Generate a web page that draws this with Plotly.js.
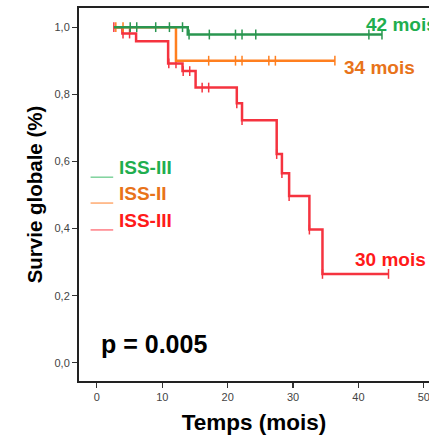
<!DOCTYPE html>
<html>
<head>
<meta charset="utf-8">
<script src="https://cdn.plot.ly/plotly-3.0.1.min.js"></script>
<style>html,body{margin:0;padding:0;background:#fff;}#chart{width:429px;height:438px;}</style>
</head>
<body>
<div id="chart"></div>
<script>
// ISS-III (green) group
var greenTimes = [2.6, 13.9, 43.6];
var greenSurv  = [1.0, 0.978, 0.978];
var greenCens  = [5.1, 6.1, 9.0, 11.1, 13.1, 14.1, 17.2, 21.2, 22.2, 24.3, 41.6, 43.6];
// ISS-II (orange) group
var orangeTimes = [2.7, 12.1, 36.4];
var orangeSurv  = [1.0, 0.90, 0.90];
var orangeCens  = [2.9, 4.0, 17.1, 21.2, 22.2, 26.3, 27.3, 36.4];
// ISS-III (red) group
var redTimes = [2.6, 3.9, 6.0, 10.9, 13.1, 15.1, 21.4, 22.2, 27.5, 28.3, 29.4, 32.5, 34.5, 44.6];
var redSurv  = [1.0, 0.981, 0.958, 0.892, 0.869, 0.82, 0.773, 0.723, 0.622, 0.565, 0.497, 0.397, 0.265, 0.265];
var redCens  = [2.6, 4.0, 5.0, 11.0, 12.1, 13.2, 14.2, 16.1, 17.1, 21.4, 22.2, 27.5, 28.3, 29.4, 32.5, 34.5, 44.6];

var groupNames = ["ISS-III", "ISS-II", "ISS-III"];
var medianLabels = ["42 mois", "34 mois", "30 mois"];
var pValueText = "p = 0.005";
var xTicks = [0, 10, 20, 30, 40, 50];
var yTicks = [0, 0.2, 0.4, 0.6, 0.8, 1.0];

var lineColors = ["#2a9650", "#ff7f1f", "#f5333f"];
var textColors = ["#1fae4f", "#e8731a", "#ff1a1a"];
var legendLineColors = ["#7fd39c", "#ffaa70", "#ff7d84"];

function survAt(times, surv, t) {
  var s = surv[0];
  for (var i = 0; i < times.length; i++) { if (times[i] <= t + 1e-9) s = surv[i]; }
  return s;
}

var groups = [
  {t: greenTimes, s: greenSurv, c: greenCens},
  {t: orangeTimes, s: orangeSurv, c: orangeCens},
  {t: redTimes, s: redSurv, c: redCens}
];

var traces = [];
groups.forEach(function(g, i) {
  traces.push({
    x: g.t, y: g.s, type: 'scatter', mode: 'lines',
    line: {shape: 'hv', color: lineColors[i], width: 2.5},
    hoverinfo: 'skip', showlegend: false
  });
  traces.push({
    x: g.c, y: g.c.map(function(t){ return survAt(g.t, g.s, t); }),
    type: 'scatter', mode: 'markers',
    marker: {symbol: 'line-ns', size: 7, color: lineColors[i], line: {color: lineColors[i], width: 1.5}},
    hoverinfo: 'skip', showlegend: false
  });
});

// draw order: red below, then orange, then green
traces = [traces[4], traces[5], traces[2], traces[3], traces[0], traces[1]];

var annotations = [];
var shapes = [];
var legendY = [0.583, 0.505, 0.423];
var legendLineY = [0.553, 0.476, 0.396];
for (var i = 0; i < 3; i++) {
  annotations.push({x: 3.1, y: legendY[i], xref: 'x', yref: 'y', xanchor: 'left', yanchor: 'middle',
    text: groupNames[i], showarrow: false,
    font: {family: 'Liberation Sans, Arial, sans-serif', size: 19, color: textColors[i], weight: 'bold'}});
  shapes.push({type: 'line', xref: 'x', yref: 'y', x0: -0.96, x1: 2.5, y0: legendLineY[i], y1: legendLineY[i],
    line: {color: legendLineColors[i], width: 1.5}});
}
var medX = [40.8, 37.5, 39.2];
var medY = [1.008, 0.881, 0.307];
for (var j = 0; j < 3; j++) {
  annotations.push({x: medX[j], y: medY[j], xref: 'x', yref: 'y', xanchor: 'left', yanchor: 'middle',
    text: medianLabels[j], showarrow: false,
    font: {family: 'Liberation Sans, Arial, sans-serif', size: 19, color: textColors[j], weight: 'bold'}});
}
annotations.push({x: 0.4, y: 0.055, xref: 'x', yref: 'y', xanchor: 'left', yanchor: 'middle',
  text: pValueText, showarrow: false,
  font: {family: 'Liberation Sans, Arial, sans-serif', size: 25, color: '#000', weight: 'bold'}});

var layout = {
  width: 429, height: 438,
  margin: {l: 79, r: 0, t: 8, b: 57, pad: 0},
  paper_bgcolor: '#fff', plot_bgcolor: '#fff',
  separators: ',.',
  showlegend: false,
  font: {family: 'Liberation Sans, Arial, sans-serif'},
  xaxis: {
    range: [-2.73, 50.79], tickvals: xTicks, ticktext: xTicks.map(String),
    ticklabeloverflow: 'allow',
    showgrid: false, zeroline: false, showline: true, mirror: true,
    linecolor: '#222', linewidth: 2, ticks: 'outside', ticklen: 5, tickwidth: 1.2, tickcolor: '#333',
    tickfont: {size: 11, color: '#444'},
    title: {text: 'Temps (mois)', font: {size: 22.5, color: '#000', weight: 'bold'}, standoff: 12}
  },
  yaxis: {
    range: [-0.054, 1.057], tickvals: yTicks, tickformat: '.1f',
    showgrid: false, zeroline: false, showline: true, mirror: false,
    linecolor: '#222', linewidth: 2, ticks: 'outside', ticklen: 5, tickwidth: 1.2, tickcolor: '#333',
    tickfont: {size: 11, color: '#444'},
    title: {text: 'Survie globale (%)', font: {size: 20.5, color: '#000', weight: 'bold'}, standoff: 6}
  },
  annotations: annotations,
  shapes: shapes
};

Plotly.newPlot('chart', traces, layout, {displayModeBar: false, staticPlot: true});
</script>
</body>
</html>
